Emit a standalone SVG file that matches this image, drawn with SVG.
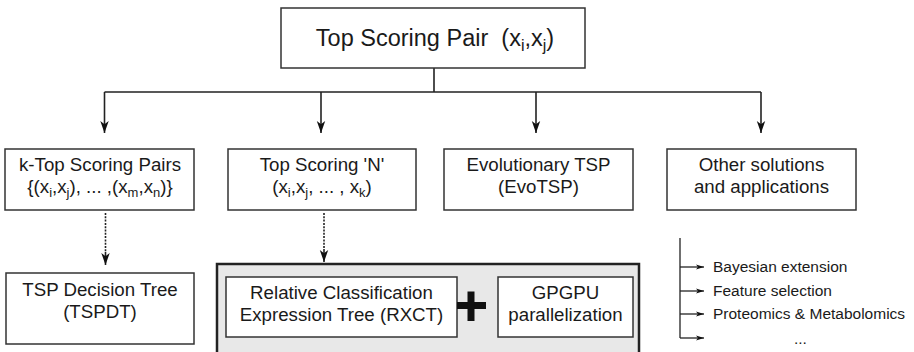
<svg xmlns="http://www.w3.org/2000/svg" width="914" height="352" viewBox="0 0 914 352">
<style>
text{font-family:"Liberation Sans",Arial,Helvetica,sans-serif;fill:#1a1a1a}
.box{fill:#fff;stroke:#333;stroke-width:1.5}
.lbl{font-size:18.7px;text-anchor:middle}
.ttl{font-size:23.5px;text-anchor:middle}
.sub{font-size:13px}
.tsub{font-size:16px}
.lst{font-size:15.5px}
.ln{fill:none;stroke:#222;stroke-width:1.6}
.dot{fill:none;stroke:#222;stroke-width:1.6;stroke-dasharray:2 1.3}
.sm{fill:none;stroke:#222;stroke-width:1.3}
</style>
<defs>
<marker id="ah" viewBox="0 -5 13 10" refX="12" refY="0" markerWidth="13" markerHeight="10" markerUnits="userSpaceOnUse" orient="auto">
<path d="M0,-4.2 L12,0 L0,4.2 L3.2,0 z" fill="#111"/>
</marker>
<marker id="sah" viewBox="0 -3 8 6" refX="8" refY="0" markerWidth="8" markerHeight="6" markerUnits="userSpaceOnUse" orient="auto">
<path d="M0,-2.6 L8,0 L0,2.6 L2,0 z" fill="#111"/>
</marker>
</defs>

<g id="connectors">
<path class="ln" d="M434,68 V92 M104.5,92 H761"/>
<path class="ln" d="M104.5,92 V133" marker-end="url(#ah)"/>
<path class="ln" d="M321,92 V133" marker-end="url(#ah)"/>
<path class="ln" d="M536,92 V133" marker-end="url(#ah)"/>
<path class="ln" d="M761,92 V133" marker-end="url(#ah)"/>
<path class="dot" d="M105.5,213 V252"/>
<path class="ln" d="M105.5,252 V265" marker-end="url(#ah)"/>
<path class="dot" d="M324,213 V249"/>
<path class="ln" d="M324,249 V262" marker-end="url(#ah)"/>
<path class="sm" d="M680,238 V338"/>
<path class="sm" d="M680,267 H704" marker-end="url(#sah)"/>
<path class="sm" d="M680,291 H704" marker-end="url(#sah)"/>
<path class="sm" d="M680,314 H704" marker-end="url(#sah)"/>
<path class="sm" d="M680,338 H704" marker-end="url(#sah)"/>
</g>

<g id="top">
<rect class="box" x="281" y="8" width="304" height="60"/>
<text class="ttl" x="435" y="46" xml:space="preserve">Top Scoring Pair  (x<tspan class="tsub" dy="5">i</tspan><tspan dy="-5">,x</tspan><tspan class="tsub" dy="5">j</tspan><tspan dy="-5">)</tspan></text>
</g>

<g id="ktsp">
<rect class="box" x="5" y="149" width="189" height="61"/>
<text class="lbl" x="100" y="171">k-Top Scoring Pairs</text>
<text class="lbl" x="100" y="193">{(x<tspan class="sub" dy="4">i</tspan><tspan dy="-4">,x</tspan><tspan class="sub" dy="4">j</tspan><tspan dy="-4">), ... ,(x</tspan><tspan class="sub" dy="4">m</tspan><tspan dy="-4">,x</tspan><tspan class="sub" dy="4">n</tspan><tspan dy="-4">)}</tspan></text>
</g>

<g id="tsn">
<rect class="box" x="228" y="149" width="188" height="61"/>
<text class="lbl" x="322" y="171">Top Scoring 'N'</text>
<text class="lbl" x="322" y="193">(x<tspan class="sub" dy="4">i</tspan><tspan dy="-4">,x</tspan><tspan class="sub" dy="4">j</tspan><tspan dy="-4">, ... , x</tspan><tspan class="sub" dy="4">k</tspan><tspan dy="-4">)</tspan></text>
</g>

<g id="evotsp">
<rect class="box" x="444" y="149" width="189" height="61"/>
<text class="lbl" x="538.5" y="171">Evolutionary TSP</text>
<text class="lbl" x="538.5" y="193">(EvoTSP)</text>
</g>

<g id="other">
<rect class="box" x="667" y="149" width="189" height="61"/>
<text class="lbl" x="761.5" y="171">Other solutions</text>
<text class="lbl" x="761.5" y="193">and applications</text>
</g>

<g id="tspdt">
<rect class="box" x="6" y="273" width="188" height="71"/>
<text class="lbl" x="100" y="296">TSP Decision Tree</text>
<text class="lbl" x="100" y="318">(TSPDT)</text>
</g>

<g id="tsnGroup">
<rect x="217" y="264" width="422" height="100" fill="#e8e8e8" stroke="#222" stroke-width="2.5"/>
<g id="rxct">
<rect class="box" x="226" y="277" width="231" height="60"/>
<text class="lbl" x="341.5" y="299">Relative Classification</text>
<text class="lbl" x="341.5" y="321">Expression Tree (RXCT)</text>
</g>
<g id="plus">
<rect x="457" y="302" width="29" height="7" fill="#111"/>
<rect x="467.5" y="291.5" width="7" height="29.5" fill="#111"/>
</g>
<g id="gpgpu">
<rect class="box" x="498" y="277" width="135" height="60"/>
<text class="lbl" x="565.5" y="299">GPGPU</text>
<text class="lbl" x="565.5" y="321">parallelization</text>
</g>
</g>

<g id="apps">
<text class="lst" x="713" y="272">Bayesian extension</text>
<text class="lst" x="713" y="296">Feature selection</text>
<text class="lst" x="713" y="319">Proteomics &amp; Metabolomics</text>
<text class="lst" x="794" y="344">...</text>
</g>
</svg>
